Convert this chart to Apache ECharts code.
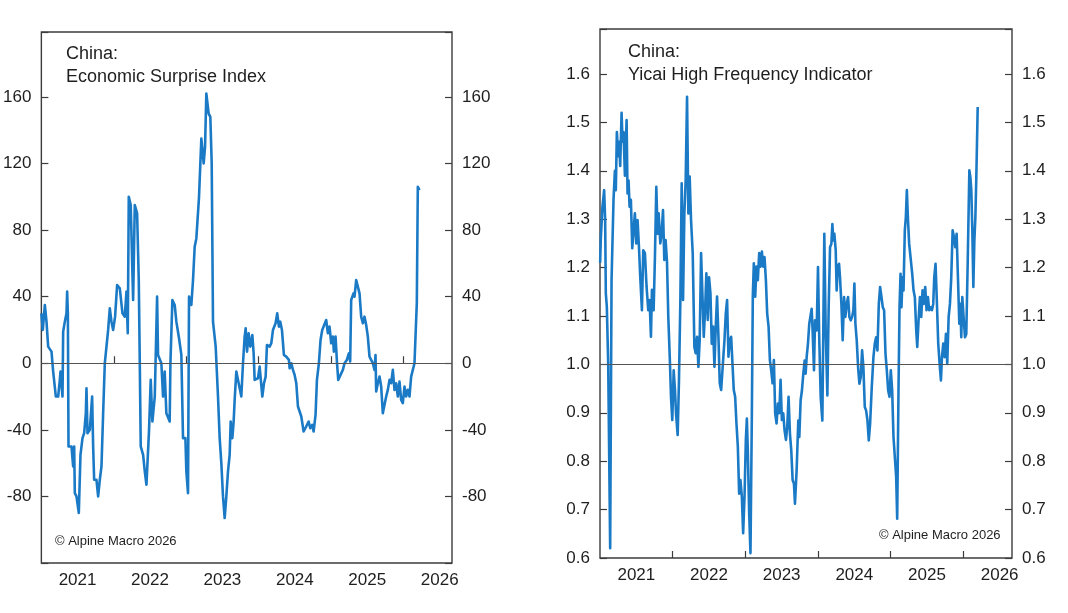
<!DOCTYPE html>
<html>
<head>
<meta charset="utf-8">
<script src="https://cdn.jsdelivr.net/npm/echarts@6/dist/echarts.min.js"></script>
<style>
  html, body { margin: 0; padding: 0; background: #ffffff; }
  #chart { width: 1068px; height: 613px; }
</style>
</head>
<body>
<div id="chart"></div>
<script>
// ---- Data (x = decimal year, y = value) ----
const yearTicks = [2022, 2023, 2024, 2025, 2026];
const yearLabels = [2021, 2022, 2023, 2024, 2025, 2026];

const surpriseIndex = [
[2021.00,30],[2021.02,20],[2021.048,35],[2021.071,25],[2021.094,10],[2021.14,7],[2021.163,-5],[2021.2,-20],[2021.232,-20],[2021.255,-10],[2021.264,-5],[2021.292,-20],[2021.301,19],[2021.324,25],[2021.347,30],[2021.356,43],[2021.366,30],[2021.375,-50],[2021.416,-50],[2021.439,-62],[2021.453,-50],[2021.462,-78],[2021.485,-80],[2021.517,-90],[2021.54,-55],[2021.568,-45],[2021.591,-42],[2021.614,-30],[2021.623,-15],[2021.637,-42],[2021.669,-40],[2021.701,-20],[2021.715,-50],[2021.729,-70],[2021.761,-70],[2021.784,-80],[2021.807,-70],[2021.83,-62],[2021.853,-30],[2021.876,0],[2021.899,10],[2021.922,20],[2021.945,33],[2021.968,25],[2021.991,20],
[2022.018,28],[2022.046,47],[2022.083,45],[2022.12,30],[2022.152,28],[2022.175,43],[2022.193,18],[2022.207,100],[2022.234,95],[2022.257,55],[2022.267,38],[2022.29,95],[2022.322,90],[2022.345,50],[2022.359,0],[2022.372,-50],[2022.405,-55],[2022.428,-65],[2022.451,-73],[2022.487,-40],[2022.51,-10],[2022.533,-35],[2022.566,-20],[2022.598,40],[2022.611,5],[2022.657,0],[2022.68,-20],[2022.703,-5],[2022.726,-30],[2022.772,-35],[2022.782,0],[2022.809,38],[2022.841,35],[2022.864,25],[2022.901,15],[2022.933,5],[2022.956,-45],[2022.989,-45],
[2023.002,-65],[2023.025,-78],[2023.039,40],[2023.071,35],[2023.094,50],[2023.117,70],[2023.14,75],[2023.177,100],[2023.209,135],[2023.241,120],[2023.26,130],[2023.278,162],[2023.31,150],[2023.333,148],[2023.352,120],[2023.37,25],[2023.407,10],[2023.439,-20],[2023.462,-45],[2023.485,-60],[2023.508,-80],[2023.531,-93],[2023.554,-80],[2023.577,-65],[2023.6,-55],[2023.614,-35],[2023.637,-45],[2023.655,-35],[2023.669,-22],[2023.692,-5],[2023.715,-5],[2023.761,-20],[2023.784,0],[2023.807,16],[2023.821,21],[2023.84,7],[2023.862,18],[2023.885,10],[2023.913,17],[2023.931,6],[2023.945,-10],[2023.991,-9],
[2024.014,-2],[2024.051,-20],[2024.074,-12],[2024.097,-8],[2024.115,11],[2024.152,10],[2024.175,12],[2024.198,20],[2024.234,24],[2024.257,30],[2024.28,22],[2024.299,25],[2024.322,20],[2024.349,5],[2024.381,4],[2024.418,2],[2024.428,-3],[2024.451,0],[2024.474,-4],[2024.497,-7],[2024.52,-12],[2024.543,-26],[2024.566,-26],[2024.589,-32],[2024.621,-41],[2024.657,-38],[2024.69,-35],[2024.713,-39],[2024.74,-37],[2024.759,-41],[2024.786,-31],[2024.805,-10],[2024.832,0],[2024.855,14],[2024.878,20],[2024.901,20],[2024.933,26],[2024.956,18],[2024.979,22],
[2025.002,12],[2025.025,16],[2025.039,7],[2025.062,16],[2025.081,1],[2025.099,-10],[2025.126,-9],[2025.163,-4],[2025.186,0],[2025.218,2],[2025.246,6],[2025.264,1],[2025.278,38],[2025.31,42],[2025.324,40],[2025.347,50],[2025.37,46],[2025.393,42],[2025.416,28],[2025.439,24],[2025.462,28],[2025.485,23],[2025.508,16],[2025.531,4],[2025.554,3],[2025.577,0],[2025.6,-4],[2025.614,5],[2025.623,-17],[2025.646,-12],[2025.669,-8],[2025.692,-14],[2025.715,-30],[2025.738,-31],[2025.761,-20],[2025.784,-16],[2025.807,-10],[2025.83,-12],[2025.853,-4],[2025.876,-16],[2025.899,-12],[2025.922,-20],[2025.945,-11],[2025.968,-22],[2025.991,-24],
[2026.014,-14],[2026.037,-20],[2026.06,-16],[2026.083,-20],[2026.106,-8],[2026.129,-4],[2026.152,0],[2026.175,26],[2026.184,36],[2026.198,106],[2026.221,104]
];

const yicaiIndicator = [
[2021.002,1.21],[2021.011,1.26],[2021.034,1.326],[2021.057,1.36],[2021.071,1.298],[2021.08,1.147],[2021.094,1.119],[2021.113,1.0],[2021.14,0.62],[2021.159,1.174],[2021.186,1.34],[2021.205,1.40],[2021.218,1.36],[2021.232,1.48],[2021.251,1.43],[2021.264,1.46],[2021.278,1.41],[2021.297,1.52],[2021.31,1.46],[2021.324,1.48],[2021.343,1.39],[2021.366,1.505],[2021.379,1.353],[2021.393,1.38],[2021.407,1.326],[2021.425,1.34],[2021.444,1.24],[2021.462,1.24],[2021.48,1.312],[2021.499,1.25],[2021.517,1.298],[2021.536,1.243],[2021.554,1.18],[2021.577,1.112],[2021.595,1.236],[2021.618,1.23],[2021.641,1.16],[2021.664,1.112],[2021.683,1.133],[2021.701,1.057],[2021.715,1.154],[2021.738,1.112],[2021.756,1.222],[2021.775,1.367],[2021.793,1.27],[2021.807,1.312],[2021.83,1.25],[2021.848,1.27],[2021.867,1.319],[2021.885,1.216],[2021.903,1.257],[2021.922,1.212],[2021.94,1.098],[2021.963,1.002],[2021.977,0.933],[2021.995,0.885],
[2022.014,0.988],[2022.032,0.947],[2022.046,0.899],[2022.069,0.854],[2022.087,0.968],[2022.106,1.133],[2022.124,1.374],[2022.143,1.133],[2022.161,1.312],[2022.179,1.38],[2022.198,1.553],[2022.216,1.312],[2022.234,1.388],[2022.253,1.298],[2022.276,1.23],[2022.299,1.036],[2022.317,1.023],[2022.336,1.057],[2022.354,0.995],[2022.372,1.05],[2022.391,1.23],[2022.409,1.147],[2022.428,1.057],[2022.446,1.112],[2022.464,1.188],[2022.483,1.092],[2022.501,1.18],[2022.52,1.147],[2022.538,1.043],[2022.556,1.078],[2022.575,0.995],[2022.593,1.078],[2022.611,1.14],[2022.63,1.057],[2022.648,0.961],[2022.667,0.947],[2022.69,0.95],[2022.713,1.05],[2022.731,1.105],[2022.749,1.133],[2022.768,1.016],[2022.786,1.05],[2022.805,1.057],[2022.823,1.002],[2022.841,0.947],[2022.86,0.933],[2022.878,0.878],[2022.897,0.83],[2022.915,0.733],[2022.933,0.761],[2022.952,0.727],[2022.97,0.651],[2022.989,0.727],
[2023.007,0.844],[2023.021,0.888],[2023.034,0.823],[2023.053,0.692],[2023.071,0.61],[2023.09,0.899],[2023.103,1.14],[2023.117,1.209],[2023.136,1.14],[2023.154,1.202],[2023.172,1.174],[2023.191,1.23],[2023.209,1.202],[2023.228,1.233],[2023.246,1.202],[2023.264,1.222],[2023.283,1.174],[2023.301,1.105],[2023.32,1.078],[2023.338,1.009],[2023.356,0.988],[2023.375,0.961],[2023.393,1.009],[2023.411,0.899],[2023.43,0.878],[2023.448,0.919],[2023.467,0.899],[2023.485,0.968],[2023.503,0.885],[2023.522,0.899],[2023.54,0.864],[2023.559,0.844],[2023.577,0.871],[2023.595,0.933],[2023.614,0.857],[2023.632,0.823],[2023.651,0.761],[2023.669,0.754],[2023.683,0.712],[2023.706,0.781],[2023.729,0.884],[2023.743,0.85],[2023.761,0.926],[2023.779,0.946],[2023.798,0.981],[2023.816,1.008],[2023.83,0.981],[2023.844,1.015],[2023.862,1.043],[2023.88,1.084],[2023.899,1.084],[2023.913,1.115],[2023.926,1.07],[2023.945,0.988],[2023.959,1.091],[2023.982,1.07],
[2024.0,1.201],[2024.018,1.05],[2024.037,0.933],[2024.06,0.884],[2024.074,1.084],[2024.087,1.27],[2024.106,1.07],[2024.129,0.936],[2024.147,1.118],[2024.166,1.242],[2024.184,1.249],[2024.198,1.29],[2024.211,1.256],[2024.225,1.27],[2024.244,1.236],[2024.257,1.153],[2024.271,1.201],[2024.29,1.208],[2024.303,1.18],[2024.322,1.125],[2024.34,1.05],[2024.359,1.139],[2024.377,1.098],[2024.395,1.125],[2024.414,1.139],[2024.432,1.098],[2024.451,1.091],[2024.469,1.098],[2024.487,1.112],[2024.501,1.167],[2024.515,1.084],[2024.533,1.05],[2024.552,0.994],[2024.57,0.96],[2024.589,0.974],[2024.607,1.029],[2024.625,0.994],[2024.644,0.912],[2024.662,0.905],[2024.681,0.884],[2024.699,0.843],[2024.717,0.877],[2024.74,0.953],[2024.763,1.015],[2024.782,1.043],[2024.8,1.056],[2024.818,1.029],[2024.837,1.125],[2024.855,1.16],[2024.874,1.139],[2024.892,1.118],[2024.91,1.112],[2024.929,1.022],[2024.947,0.988],[2024.966,0.946],[2024.984,0.933],
[2025.002,0.988],[2025.021,0.946],[2025.039,0.85],[2025.057,0.85],[2025.076,0.767],[2025.09,0.681],[2025.108,0.946],[2025.122,1.118],[2025.136,1.187],[2025.149,1.118],[2025.163,1.18],[2025.177,1.153],[2025.195,1.277],[2025.209,1.304],[2025.223,1.36],[2025.237,1.304],[2025.255,1.249],[2025.278,1.215],[2025.297,1.187],[2025.315,1.153],[2025.333,1.139],[2025.352,1.07],[2025.366,1.036],[2025.384,1.091],[2025.403,1.139],[2025.421,1.098],[2025.439,1.153],[2025.457,1.125],[2025.476,1.16],[2025.494,1.112],[2025.513,1.139],[2025.531,1.112],[2025.549,1.118],[2025.568,1.112],[2025.586,1.125],[2025.6,1.18],[2025.618,1.208],[2025.637,1.125],[2025.655,1.043],[2025.674,1.001],[2025.692,0.967],[2025.706,1.015],[2025.724,1.043],[2025.743,1.015],[2025.761,1.063],[2025.779,1.001],[2025.798,1.098],[2025.816,1.125],[2025.834,1.18],[2025.853,1.277],[2025.871,1.263],[2025.89,1.242],[2025.908,1.27],[2025.926,1.18],[2025.945,1.084],[2025.959,1.125],[2025.972,1.056],[2025.986,1.139],
[2026.004,1.098],[2026.023,1.056],[2026.041,1.063],[2026.06,1.208],[2026.083,1.401],[2026.097,1.387],[2026.11,1.36],[2026.124,1.277],[2026.138,1.16],[2026.152,1.256],[2026.166,1.304],[2026.179,1.387],[2026.198,1.532]
];

const leftTitle = 'China:\nEconomic Surprise Index';
const rightTitle = 'China:\nYicai High Frequency Indicator';
const credit = '\u00A9 Alpine Macro 2026';

// ---- Styling ----
const FONT = "'Liberation Sans', Arial, Helvetica, sans-serif";
const TXT = '#1e1e1e';
const FRAME = '#3c3c3c';
const LINE = '#1b7ac6';

function xAxisFor(gi) {
  return {
    type: 'value', gridIndex: gi, min: 2021, max: 2026.67,
    axisLine: { show: false },
    splitLine: { show: false },
    axisTick: { show: true, inside: true, length: 7, customValues: yearTicks,
                lineStyle: { color: FRAME, width: 1.2 } },
    axisLabel: { show: true, customValues: yearLabels.map(y => y + 0.5),
                 formatter: v => String(Math.floor(v)), margin: 9,
                 fontSize: 17, color: TXT, fontFamily: FONT }
  };
}
function yAxisFor(gi, pos, min, max, interval, fmt) {
  return {
    type: 'value', gridIndex: gi, position: pos, min: min, max: max, interval: interval,
    axisLine: { show: false },
    splitLine: { show: false },
    axisTick: { show: true, inside: true, length: 7, lineStyle: { color: FRAME, width: 1.2 } },
    axisLabel: { formatter: fmt, margin: 10, fontSize: 17, color: TXT, fontFamily: FONT }
  };
}
const fmtLeft = v => (v < -100 || v > 180) ? '' : String(Math.round(v));
const fmtRight = v => (v > 1.65) ? '' : (Math.round(v * 10) / 10).toFixed(1);

const chart = echarts.init(document.getElementById('chart'), null, { renderer: 'canvas' });
chart.setOption({
  animation: false,
  backgroundColor: '#ffffff',
  title: [
    { text: leftTitle, left: 66, top: 43, padding: 0,
      textStyle: { fontSize: 18, fontWeight: 'normal', lineHeight: 23, color: TXT, fontFamily: FONT } },
    { text: rightTitle, left: 628, top: 41, padding: 0,
      textStyle: { fontSize: 18, fontWeight: 'normal', lineHeight: 23, color: TXT, fontFamily: FONT } }
  ],
  grid: [
    { left: 41, top: 32, width: 411, height: 531, show: true, borderColor: FRAME, borderWidth: 1.4, backgroundColor: 'transparent' },
    { left: 600, top: 29, width: 412, height: 529, show: true, borderColor: FRAME, borderWidth: 1.4, backgroundColor: 'transparent' }
  ],
  xAxis: [ xAxisFor(0), xAxisFor(1) ],
  yAxis: [
    yAxisFor(0, 'left', -120, 199, 40, fmtLeft),
    yAxisFor(0, 'right', -120, 199, 40, fmtLeft),
    yAxisFor(1, 'left', 0.6, 1.693, 0.1, fmtRight),
    yAxisFor(1, 'right', 0.6, 1.693, 0.1, fmtRight)
  ],
  graphic: [
    { type: 'text', left: 55, top: 535, style: { text: credit, fontSize: 13, fill: TXT, fontFamily: FONT } },
    { type: 'text', left: 879, top: 529, style: { text: credit, fontSize: 13, fill: TXT, fontFamily: FONT } }
  ],
  series: [
    { type: 'line', xAxisIndex: 0, yAxisIndex: 0, data: surpriseIndex, showSymbol: false, symbol: 'none',
      lineStyle: { color: LINE, width: 2.6, join: 'round' }, z: 3,
      markLine: { silent: true, symbol: 'none', label: { show: false }, animation: false,
                  lineStyle: { color: '#555', width: 1, type: 'solid' }, data: [{ yAxis: 0 }] } },
    { type: 'line', xAxisIndex: 1, yAxisIndex: 2, data: yicaiIndicator, showSymbol: false, symbol: 'none',
      lineStyle: { color: LINE, width: 2.6, join: 'round' }, z: 3,
      markLine: { silent: true, symbol: 'none', label: { show: false }, animation: false,
                  lineStyle: { color: '#555', width: 1, type: 'solid' }, data: [{ yAxis: 1 }] } }
  ]
});
</script>
</body>
</html>
